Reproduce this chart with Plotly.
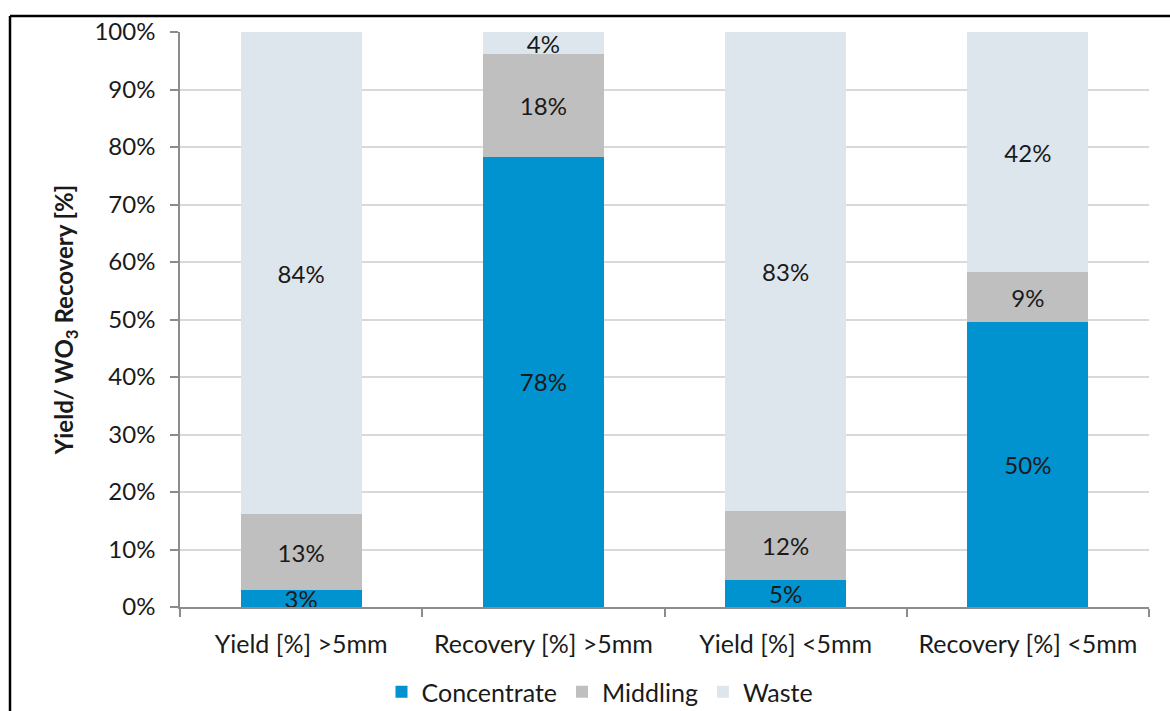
import plotly.graph_objects as go

# Stacked shares per product stream, in percent
categories = ["Yield [%] >5mm", "Recovery [%] >5mm", "Yield [%] <5mm", "Recovery [%] <5mm"]
concentrate = [2.9, 78.3, 4.7, 49.6]
middling = [13.2, 17.8, 12.0, 8.6]
waste = [83.9, 3.9, 83.3, 41.8]

series = [
    ("Concentrate", concentrate, "#0093D0"),
    ("Middling", middling, "#BFBFBF"),
    ("Waste", waste, "#DEE6ED"),
]

FONT = "Lato, 'Open Sans', sans-serif"
TEXT = "#1a1a1a"

fig = go.Figure()
for name, vals, color in series:
    fig.add_trace(go.Bar(
        name=name,
        x=categories,
        y=vals,
        marker=dict(color=color, line=dict(width=0)),
        texttemplate="%{y:.0f}%",
        textposition="inside",
        insidetextanchor="middle",
        textfont=dict(family=FONT, size=24, color=TEXT),
        hoverinfo="skip",
    ))

W, H = 1170, 711
L, R, T, B = 180, 21, 32, 104
pw, ph = W - L - R, H - T - B

def px_x(x):
    return (x - L) / pw

def px_y(y):
    return (H - B - y) / ph

fig.update_layout(
    barmode="stack",
    bargap=0.5,
    width=W,
    height=H,
    margin=dict(l=L, r=R, t=T, b=B, autoexpand=False),
    paper_bgcolor="white",
    plot_bgcolor="white",
    font=dict(family=FONT, size=24, color=TEXT),
    uniformtext=dict(minsize=24, mode="show"),
    showlegend=True,
    legend=dict(
        orientation="h",
        x=px_x(600),
        xanchor="center",
        y=px_y(692),
        yanchor="middle",
        font=dict(family=FONT, size=25, color=TEXT),
        traceorder="normal",
        itemsizing="constant",
        bgcolor="rgba(0,0,0,0)",
    ),
    xaxis=dict(
        type="category",
        showline=True,
        linecolor="#8c8c8c",
        linewidth=1.5,
        ticks="outside",
        tickson="boundaries",
        ticklen=8,
        tickcolor="#8c8c8c",
        tickwidth=1.5,
        ticklabelstandoff=14,
        tickfont=dict(family=FONT, size=25, color=TEXT),
        showgrid=False,
    ),
    yaxis=dict(
        range=[0, 100],
        dtick=10,
        ticksuffix="%",
        showline=True,
        linecolor="#8c8c8c",
        linewidth=1.5,
        ticks="outside",
        ticklen=8,
        tickcolor="#8c8c8c",
        tickwidth=1.5,
        ticklabelstandoff=10,
        tickfont=dict(family=FONT, size=24, color=TEXT),
        showgrid=True,
        gridcolor="#D9D9D9",
        gridwidth=1.5,
        zeroline=False,
        title=dict(
            text="<b>Yield/ WO<sub>3</sub> Recovery [%]</b>",
            font=dict(family=FONT, size=24, color=TEXT),
            standoff=14,
        ),
    ),
    shapes=[
        # frame lines along the top and left of the figure
        dict(type="line", xref="paper", yref="paper",
             x0=px_x(10), x1=px_x(1175), y0=px_y(16), y1=px_y(16),
             line=dict(color="black", width=2.5)),
        dict(type="line", xref="paper", yref="paper",
             x0=px_x(10), x1=px_x(10), y0=px_y(16), y1=px_y(720),
             line=dict(color="black", width=2.5)),
    ],
)

fig.write_html("out.html")
